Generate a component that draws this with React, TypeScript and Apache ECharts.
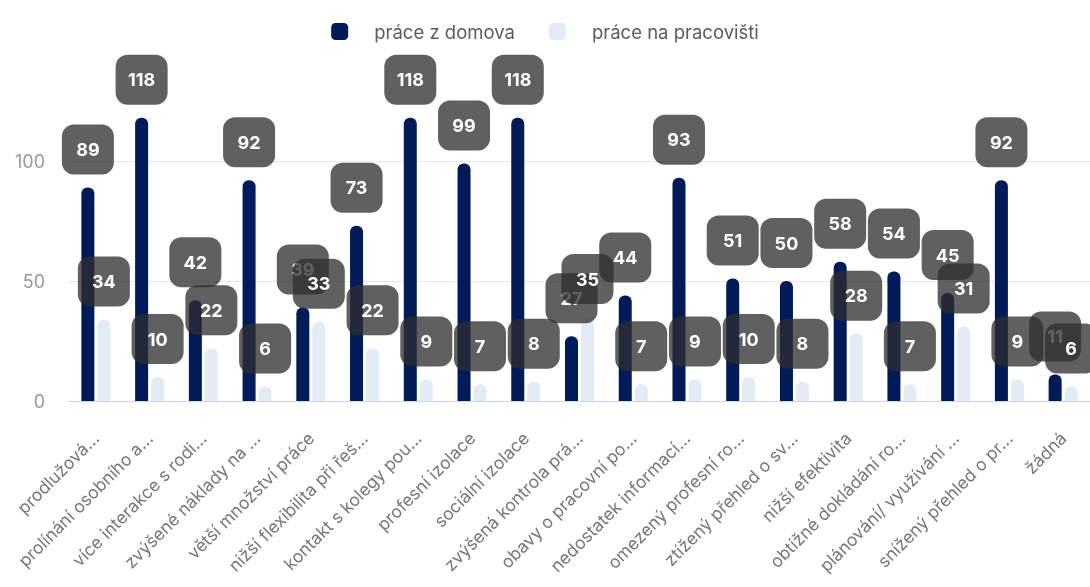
import React, { useEffect, useRef } from "react";
import * as echarts from "echarts";

const categories = [
  "prodlužová...",
  "prolínání osobního a...",
  "více interakce s rodi...",
  "zvýšené náklady na ...",
  "větší množství práce",
  "nižší flexibilita při řeš...",
  "kontakt s kolegy pou...",
  "profesní izolace",
  "sociální izolace",
  "zvýšená kontrola prá...",
  "obavy o pracovní po...",
  "nedostatek informací...",
  "omezený profesní ro...",
  "ztížený přehled o sv...",
  "nižší efektivita",
  "obtížné dokládání ro...",
  "plánování/ využívání ...",
  "snížený přehled o pr...",
  "žádná",
];

const homeValues = [89, 118, 42, 92, 39, 73, 118, 99, 118, 27, 44, 93, 51, 50, 58, 54, 45, 92, 11];
const officeValues = [34, 10, 22, 6, 33, 22, 9, 7, 8, 35, 7, 9, 10, 8, 28, 7, 31, 9, 6];

const seriesNames = ["práce z domova", "práce na pracovišti"];
const colors = ["#001b58", "#e3ebf5"];

const labelStyle = {
  show: true,
  position: "top" as const,
  distance: 13,
  color: "#ffffff",
  fontWeight: "bold" as const,
  fontSize: 18,
  fontFamily: "Inter",
  backgroundColor: "rgba(46,46,46,0.76)",
  borderRadius: 12,
  width: 30,
  height: 20,
  lineHeight: 20,
  align: "center" as const,
  padding: [15, 11],
};

export default function App() {
  const ref = useRef<HTMLDivElement>(null);
  useEffect(() => {
    if (!ref.current) return;
    const chart = echarts.init(ref.current, null, { renderer: "svg" });
    chart.setOption({
      animation: false,
      textStyle: { fontFamily: "Inter" },
      legend: {
        top: 17,
        left: "center",
        icon: "roundRect",
        itemWidth: 17,
        itemHeight: 17,
        itemGap: 34,
        textStyle: { color: "#5c5c5c", fontSize: 18.5, padding: [0, 0, 0, 21] },
        data: seriesNames,
      },
      grid: { left: 69, right: -2, top: 113, bottom: 186, containLabel: false },
      xAxis: {
        type: "category",
        data: categories,
        axisLine: { lineStyle: { color: "#ccd6eb" } },
        axisTick: { show: false },
        axisLabel: {
          rotate: 45,
          interval: 0,
          color: "#777777",
          fontSize: 17.5,
          margin: 34,
        },
      },
      yAxis: {
        type: "value",
        min: 0,
        max: 120,
        interval: 50,
        axisLabel: { color: "#999", fontSize: 18, margin: 24, showMaxLabel: false },
        splitLine: { lineStyle: { color: "#e6e6e6" }, showMaxLine: false },
      },
      series: [
        {
          name: seriesNames[0],
          type: "bar",
          data: homeValues,
          barWidth: 13,
          barGap: "23%",
          itemStyle: { color: colors[0], borderRadius: [6, 6, 0, 0] },
          label: labelStyle,
        },
        {
          name: seriesNames[1],
          type: "bar",
          data: officeValues,
          barWidth: 13,
          itemStyle: { color: colors[1], borderRadius: [6, 6, 0, 0] },
          label: labelStyle,
        },
      ],
    });
    return () => chart.dispose();
  }, []);
  return <div ref={ref} style={{ position: "fixed", left: 0, top: 0, width: 1090, height: 587 }} />;
}
